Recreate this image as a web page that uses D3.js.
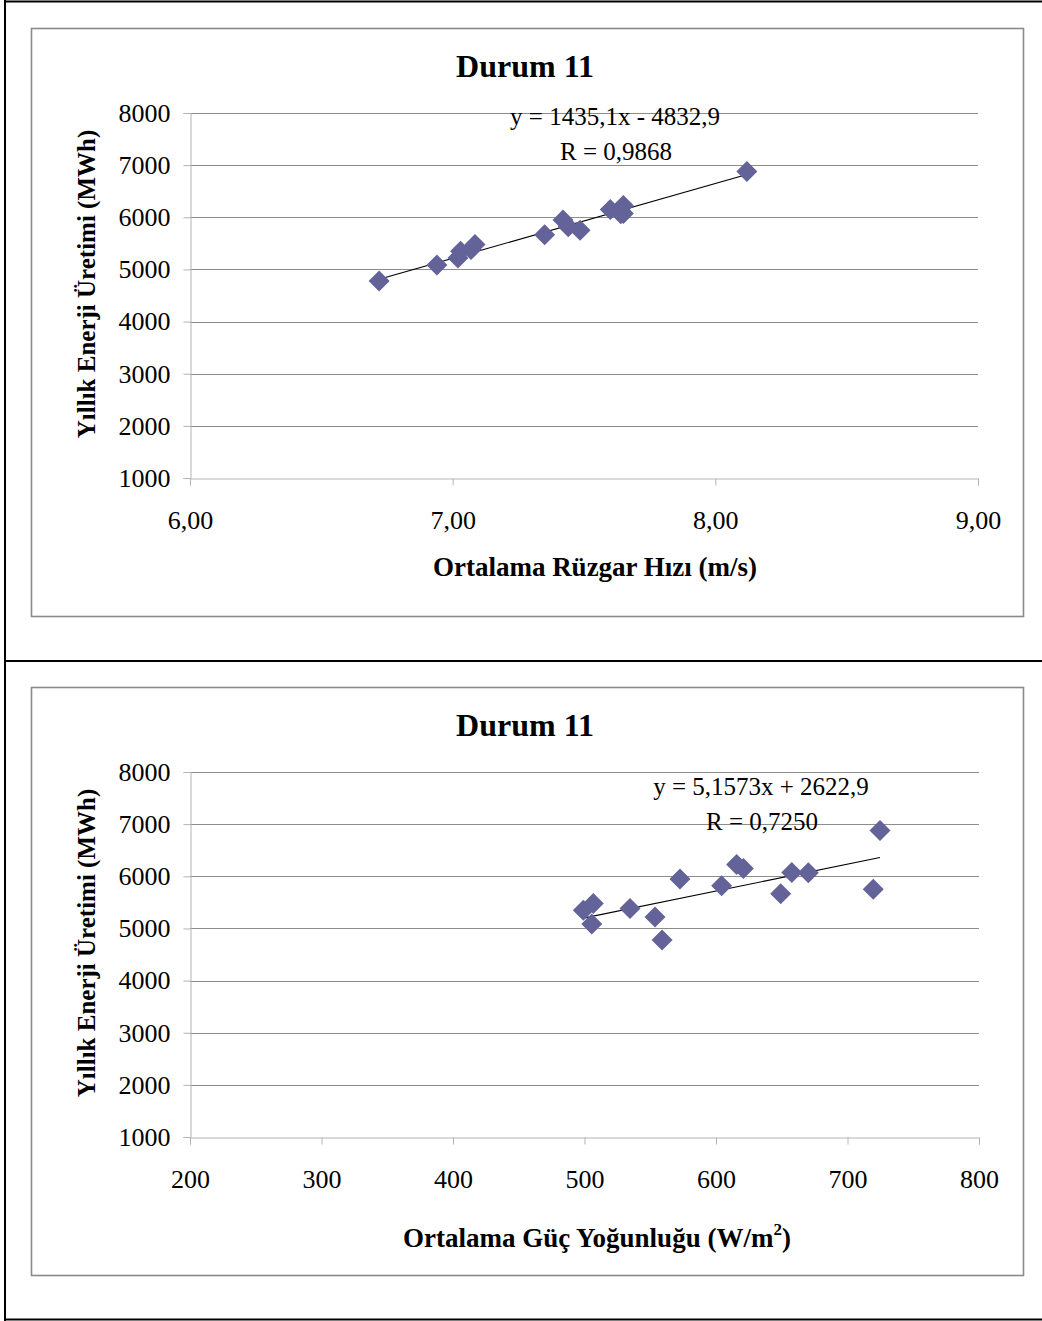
<!DOCTYPE html>
<html>
<head>
<meta charset="utf-8">
<script src="https://cdn.jsdelivr.net/npm/d3@7"></script>
<style>
  html, body { margin: 0; padding: 0; background: #fff; }
  svg { display: block; }
  text { font-family: "Liberation Serif", "Times New Roman", serif; fill: #000; }
</style>
</head>
<body>
<svg id="page" width="1042" height="1321"></svg>
<script>
// Annual energy output (MWh) for each site, shared by both panels
const energy = [4780, 5085, 5220, 5350, 5380, 5480, 5663, 5950, 5820, 5750, 6150, 6225, 6075, 6070, 6880];
// Mean wind speed (m/s) for the same sites
const windSpeed = [6.72, 6.94, 7.02, 7.03, 7.07, 7.085, 7.35, 7.42, 7.44, 7.485, 7.60, 7.65, 7.65, 7.64, 8.12];
// Mean power density (W/m²) for the same sites
const powerDensity = [559, 505.5, 553.6, 499.1, 534.6, 506.7, 649.2, 572.6, 604.3, 719.6, 620.8, 615.7, 657.6, 670.2, 724.7];

// Linear trend coefficients [slope, intercept]
const speedTrend = [1435.1, -4832.9];
const densityTrend = [5.1573, 2622.9];
const speedTrendLabels = ["y = 1435,1x - 4832,9", "R = 0,9868"];
const densityTrendLabels = ["y = 5,1573x + 2622,9", "R = 0,7250"];

// Axis ticks
const energyTicks = [1000, 2000, 3000, 4000, 5000, 6000, 7000, 8000];
const speedTicks = [6, 7, 8, 9];
const densityTicks = [200, 300, 400, 500, 600, 700, 800];

const chartTitle = "Durum 11";
const yTitle = "Yıllık Enerji Üretimi (MWh)";

const svg = d3.select("#page");

// Page frame lines
const frame = svg.append("g").attr("stroke", "#000").attr("stroke-width", 2);
frame.append("line").attr("x1", 5).attr("x2", 5).attr("y1", 0).attr("y2", 1321);
frame.append("line").attr("x1", 5).attr("x2", 1042).attr("y1", 1.5).attr("y2", 1.5);
frame.append("line").attr("x1", 5).attr("x2", 1042).attr("y1", 661).attr("y2", 661);
frame.append("line").attr("x1", 5).attr("x2", 1042).attr("y1", 1319.5).attr("y2", 1319.5);

const commaFmt = d => d3.format(".2f")(d).replace(".", ",");

function drawPanel(opts) {
  const top = opts.top;
  const g = svg.append("g");
  const plotLeft = 190, plotRight = opts.right;
  const plotTop = top + 85, plotBottom = top + 450;

  // Chart area border
  g.append("rect")
    .attr("x", 31.5).attr("y", top + 0.5)
    .attr("width", 992).attr("height", 588)
    .attr("fill", "none").attr("stroke", "#8a8a8a").attr("stroke-width", 1.6);

  const x = d3.scaleLinear().domain(opts.xDomain).range([plotLeft, plotRight]);
  const y = d3.scaleLinear().domain([1000, 8000]).range([plotBottom, plotTop]);

  // Horizontal gridlines
  g.append("g").selectAll("line")
    .data(energyTicks.filter(t => t > 1000))
    .join("line")
    .attr("x1", plotLeft).attr("x2", plotRight)
    .attr("y1", d => Math.round(y(d)) + 0.5).attr("y2", d => Math.round(y(d)) + 0.5)
    .attr("stroke", "#8c8c8c").attr("stroke-width", 1);

  // Y axis
  const yAxis = g.append("g")
    .attr("transform", `translate(${plotLeft + 0.5},0)`)
    .call(d3.axisLeft(y).tickValues(energyTicks).tickSize(7).tickPadding(13).tickFormat(d3.format("d")));
  yAxis.select(".domain").attr("stroke", "#b4b4b4");
  yAxis.selectAll(".tick line").attr("stroke", "#b4b4b4");
  yAxis.selectAll(".tick text")
    .attr("font-family", "Liberation Serif").attr("font-size", 26).attr("fill", "#000");

  // X axis
  const xAxis = g.append("g")
    .attr("transform", `translate(0,${Math.round(plotBottom) + 0.5})`)
    .call(d3.axisBottom(x).tickValues(opts.xTicks).tickSize(7).tickPadding(25).tickFormat(opts.xFormat));
  xAxis.select(".domain").attr("stroke", "#b4b4b4");
  xAxis.selectAll(".tick line").attr("stroke", "#b4b4b4");
  xAxis.selectAll(".tick text")
    .attr("font-family", "Liberation Serif").attr("font-size", 26).attr("fill", "#000");

  // Trend line across the range of the data
  const xs = opts.xData;
  const [slope, intercept] = opts.trend;
  const x0 = d3.min(xs), x1 = d3.max(xs);
  g.append("line")
    .attr("x1", x(x0)).attr("y1", y(slope * x0 + intercept))
    .attr("x2", x(x1)).attr("y2", y(slope * x1 + intercept))
    .attr("stroke", "#000").attr("stroke-width", 1.1);

  // Diamond markers
  const r = 10.5;
  g.append("g").selectAll("path")
    .data(xs.map((v, i) => [v, energy[i]]))
    .join("path")
    .attr("d", d => {
      const cx = x(d[0]), cy = y(d[1]);
      return `M${cx},${cy - r}L${cx + r},${cy}L${cx},${cy + r}L${cx - r},${cy}Z`;
    })
    .attr("fill", "#636399");

  // Title
  g.append("text")
    .attr("x", 525).attr("y", top + 49)
    .attr("text-anchor", "middle")
    .attr("font-size", 32).attr("font-weight", "bold")
    .text(chartTitle);

  // Trend equation labels
  g.append("text")
    .attr("x", opts.eqX).attr("y", top + opts.eqY)
    .attr("text-anchor", "middle")
    .attr("font-size", 25)
    .text(opts.trendLabels[0]);
  g.append("text")
    .attr("x", opts.eqX + 1).attr("y", top + opts.eqY + 35)
    .attr("text-anchor", "middle")
    .attr("font-size", 25)
    .text(opts.trendLabels[1]);

  // X axis title
  const xt = g.append("text")
    .attr("x", opts.xTitleX).attr("y", top + opts.xTitleY)
    .attr("text-anchor", "middle")
    .attr("font-size", 27).attr("font-weight", "bold");
  opts.xTitle(xt);

  // Y axis title
  g.append("text")
    .attr("transform", `translate(95,${top + 256}) rotate(-90)`)
    .attr("text-anchor", "middle")
    .attr("font-size", 25).attr("font-weight", "bold")
    .text(yTitle);
}

drawPanel({
  top: 28,
  right: 978,
  xDomain: [6, 9],
  xTicks: speedTicks,
  xFormat: commaFmt,
  xData: windSpeed,
  trend: speedTrend,
  trendLabels: speedTrendLabels,
  eqX: 615, eqY: 97,
  xTitleX: 595, xTitleY: 548,
  xTitle: t => t.text("Ortalama Rüzgar Hızı (m/s)")
});

drawPanel({
  top: 687,
  right: 979,
  xDomain: [200, 800],
  xTicks: densityTicks,
  xFormat: d3.format("d"),
  xData: powerDensity,
  trend: densityTrend,
  trendLabels: densityTrendLabels,
  eqX: 761, eqY: 108,
  xTitleX: 597, xTitleY: 560,
  xTitle: t => {
    t.append("tspan").text("Ortalama Güç Yoğunluğu (W/m");
    t.append("tspan").attr("font-size", 17).attr("dy", -12).text("2");
    t.append("tspan").attr("dy", 12).text(")");
  }
});
</script>
</body>
</html>
